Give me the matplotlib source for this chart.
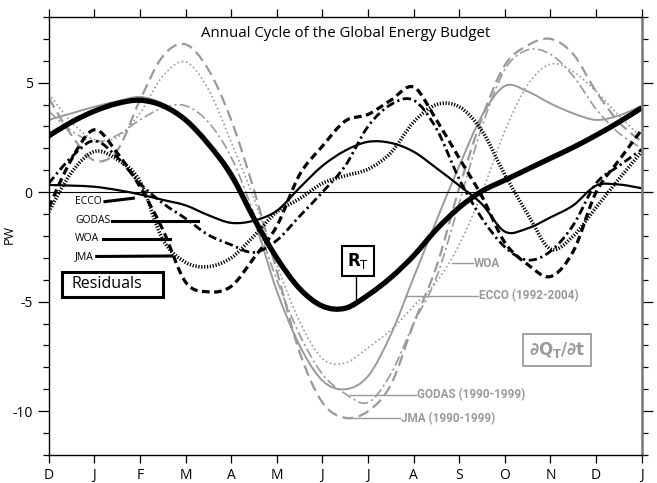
import numpy as np
import matplotlib
matplotlib.use("Agg")
import matplotlib.pyplot as plt
from matplotlib.path import Path
from matplotlib.patches import PathPatch, Rectangle

plt.rcParams['font.family'] = ['Open Sans', 'DejaVu Sans']
plt.rcParams['axes.unicode_minus'] = False

# month axis: D J F ... D J, values read every half month
month_labels = ['D', 'J', 'F', 'M', 'A', 'M', 'J', 'J', 'A', 'S', 'O', 'N', 'D', 'J']
half_months = np.arange(27) * 0.5

# budget terms (PW)
rt = [2.57, 3.2, 3.7, 4.05, 4.2, 3.95, 3.3, 2.2, 0.8, -1.2, -3.0, -4.4, -5.2, -5.3,
      -4.7, -3.9, -2.9, -1.7, -0.7, 0.05, 0.55, 1.05, 1.55, 2.05, 2.6, 3.2, 3.85]
ecco = [3.3, 3.6, 3.9, 4.15, 4.35, 4.05, 3.35, 2.2, 0.6, -1.3, -4.5, -7.0, -8.6, -9.0,
        -8.4, -6.5, -3.9, -1.3, 1.2, 3.5, 4.85, 4.6, 4.05, 3.6, 3.3, 3.5, 3.95]
woa = [4.5, 3.2, 2.4, 2.5, 3.6, 5.3, 5.95, 4.7, 2.3, -0.3, -3.3, -5.9, -7.6, -7.8,
       -7.1, -6.3, -5.2, -4.1, -2.4, 0.0, 2.8, 4.9, 5.85, 5.5, 4.6, 3.5, 2.5]
jma = [4.3, 2.6, 1.45, 1.9, 4.2, 6.2, 6.75, 5.6, 3.3, 0.1, -3.6, -7.3, -9.6, -10.3,
       -10.0, -8.8, -6.0, -3.4, 0.2, 3.4, 5.8, 6.7, 7.0, 6.3, 4.6, 3.2, 2.3]
godas = [3.7, 2.8, 2.3, 2.6, 3.3, 3.85, 3.95, 3.2, 1.6, -1.0, -4.0, -6.5, -8.3, -9.2,
         -9.6, -8.3, -6.0, -3.9, -0.5, 3.0, 5.6, 6.5, 6.3, 5.3, 3.8, 2.7, 2.0]

# residuals (PW)
ecco_res = [0.33, 0.3, 0.25, 0.1, -0.1, -0.35, -0.6, -1.05, -1.4, -1.3, -0.85, 0.2, 1.2, 1.9,
            2.3, 2.25, 1.85, 1.1, 0.3, -0.55, -1.8, -1.65, -1.15, -0.6, 0.3, 0.35, 0.18]
jma_res = [-0.7, 1.5, 2.85, 1.8, 0.25, -1.7, -4.1, -4.55, -4.3, -3.0, -1.55, 0.8, 2.1, 3.25,
           3.55, 4.2, 4.8, 3.3, 1.55, -0.2, -2.3, -3.3, -3.85, -2.7, 0.0, 1.45, 2.85]
godas_res = [0.4, 1.6, 2.35, 1.6, 0.4, -0.5, -1.2, -1.95, -2.4, -2.75, -2.2, -1.1, 0.0, 1.2,
             3.0, 4.0, 4.2, 2.9, 0.6, -1.2, -2.5, -3.1, -2.7, -1.5, 0.4, 1.2, 1.95]
woa_res = [-0.9, 0.9, 1.85, 1.5, 0.5, -2.15, -3.2, -3.4, -3.0, -2.0, -0.9, -0.3, 0.4, 0.75,
           1.05, 1.8, 3.2, 4.0, 3.9, 2.8, 0.8, -1.0, -2.6, -2.0, -0.7, 0.6, 1.85]

GRAY = '#9a9a9a'


def smooth_curve(ax, x, y, **kw):
    # draw a smooth bezier path through the read points (catmull-rom tangents)
    pts = np.column_stack([x, y])
    ext = np.vstack([pts[0], pts, pts[-1]])
    verts = [pts[0]]
    codes = [Path.MOVETO]
    for i in range(len(pts) - 1):
        p0, p1, p2, p3 = ext[i], ext[i + 1], ext[i + 2], ext[i + 3]
        verts += [p1 + (p2 - p0) / 6.0, p2 - (p3 - p1) / 6.0, p2]
        codes += [Path.CURVE4] * 3
    patch = PathPatch(Path(verts, codes), fill=False, joinstyle='round', **kw)
    ax.add_patch(patch)


def px2data(px, py):
    return (px - 48.7) / 45.6, (192.3 - py) / 21.87


fig = plt.figure(figsize=(6.57, 4.83), dpi=100)
ax = fig.add_axes([0.0741, 0.058, 0.9026, 0.9068])

# gray budget curves
smooth_curve(ax, half_months, woa, edgecolor=GRAY, lw=1.2, ls=(0, (1, 1.6)))
smooth_curve(ax, half_months, jma, edgecolor=GRAY, lw=1.6, ls=(0, (5, 2.5)))
smooth_curve(ax, half_months, godas, edgecolor=GRAY, lw=1.2, ls=(0, (6, 2, 1.3, 2)))
smooth_curve(ax, half_months, ecco, edgecolor=GRAY, lw=1.4)

# black residuals
smooth_curve(ax, half_months, woa_res, edgecolor='black', lw=2.6, ls=(0, (0.35, 0.45)))
smooth_curve(ax, half_months, godas_res, edgecolor='black', lw=2.0, ls=(0, (3, 1.3, 0.8, 1.3)))
smooth_curve(ax, half_months, jma_res, edgecolor='black', lw=2.3, ls=(0, (2.4, 1.4)))
smooth_curve(ax, half_months, ecco_res, edgecolor='black', lw=1.6)

# total
smooth_curve(ax, half_months, rt, edgecolor='black', lw=3.8)

ax.axhline(0, color='black', lw=0.8)

ax.set_xlim(0, 13)
ax.set_ylim(-12, 8)
ax.set_xticks(range(14))
ax.set_xticklabels(month_labels, fontsize=10)
ax.set_yticks([-10, -5, 0, 5])
ax.set_yticks(range(-12, 9), minor=True)
ax.tick_params(axis='x', direction='out', length=6, width=0.9, top=True, labeltop=False)
ax.tick_params(axis='y', which='major', direction='out', length=8, width=0.9,
               right=True, labelsize=10)
ax.tick_params(axis='y', which='minor', direction='out', length=4.5, width=0.9, right=True)
for s in ['left', 'top', 'bottom']:
    ax.spines[s].set_linewidth(1.0)
ax.spines['right'].set_color('#777777')
ax.spines['right'].set_linewidth(1.8)
fig.text(0.014, 0.515, 'PW', rotation=90, fontsize=9, ha='center', va='center')

ax.set_title('Annual Cycle of the Global Energy Budget', fontsize=10.8, y=0.955, pad=0)

# residual key on the left
key = [('ECCO', 201.7, 105, 133.3, 198.3),
       ('GODAS', 221, 111.7, 198.3, 221),
       ('WOA', 239, 102.7, 170, 239),
       ('JMA', 256.5, 96.7, 171.7, 256)]
for name, ty, x0, x1, y1 in key:
    tx, tyd = px2data(75, ty)
    ax.text(tx, tyd, name, fontsize=7.5, va='center', ha='left')
    a0, b0 = px2data(x0, ty)
    a1, b1 = px2data(x1, y1)
    ax.plot([a0, a1], [b0, b1], color='black', lw=2.2)
r0x, r0y = px2data(62, 296.5)
r1x, r1y = px2data(163, 272)
ax.add_patch(Rectangle((r0x, r0y), r1x - r0x, r1y - r0y, fc='white', ec='black', lw=2.2,
                       zorder=3))
bx, by = px2data(72, 284)
ax.text(bx, by, 'Residuals', fontsize=11.5, ha='left', va='center', zorder=4)

# R_T label
rx, ry = px2data(357.5, 261.5)
lx0, ly0 = px2data(355.7, 274)
lx1, ly1 = px2data(355.7, 300)
ax.plot([lx0, lx1], [ly0, ly1], color='black', lw=1.0)
ax.text(rx, ry, r'$\mathbf{R}_{\mathrm{T}}$', fontsize=12, ha='center', va='center',
        bbox=dict(boxstyle='square,pad=0.3', fc='white', ec='black', lw=1.5))

# gray labels on the right
gray_labels = [('WOA', 263.3, 451.7, 473),
               ('ECCO (1992-2004)', 295.5, 405, 478),
               ('GODAS (1990-1999)', 394.5, 350, 416),
               ('JMA (1990-1999)', 418.3, 345, 400)]
for name, ly, x0, x1 in gray_labels:
    a0, b0 = px2data(x0, ly)
    a1, _ = px2data(x1, ly)
    ax.plot([a0, a1], [b0, b0], color=GRAY, lw=1.0)
    ax.text(a1 + 0.02, b0, name, fontsize=8.5, color=GRAY, fontweight='bold',
            family=['Roboto', 'DejaVu Sans'], va='center', ha='left')

qx, qy = px2data(557, 350)
ax.text(qx, qy, r'$\mathbf{\partial Q_T/\partial t}$', fontsize=12, color=GRAY,
        ha='center', va='center',
        bbox=dict(boxstyle='square,pad=0.35', fc='white', ec=GRAY, lw=1.3))

fig.savefig('out.png', dpi=100)
